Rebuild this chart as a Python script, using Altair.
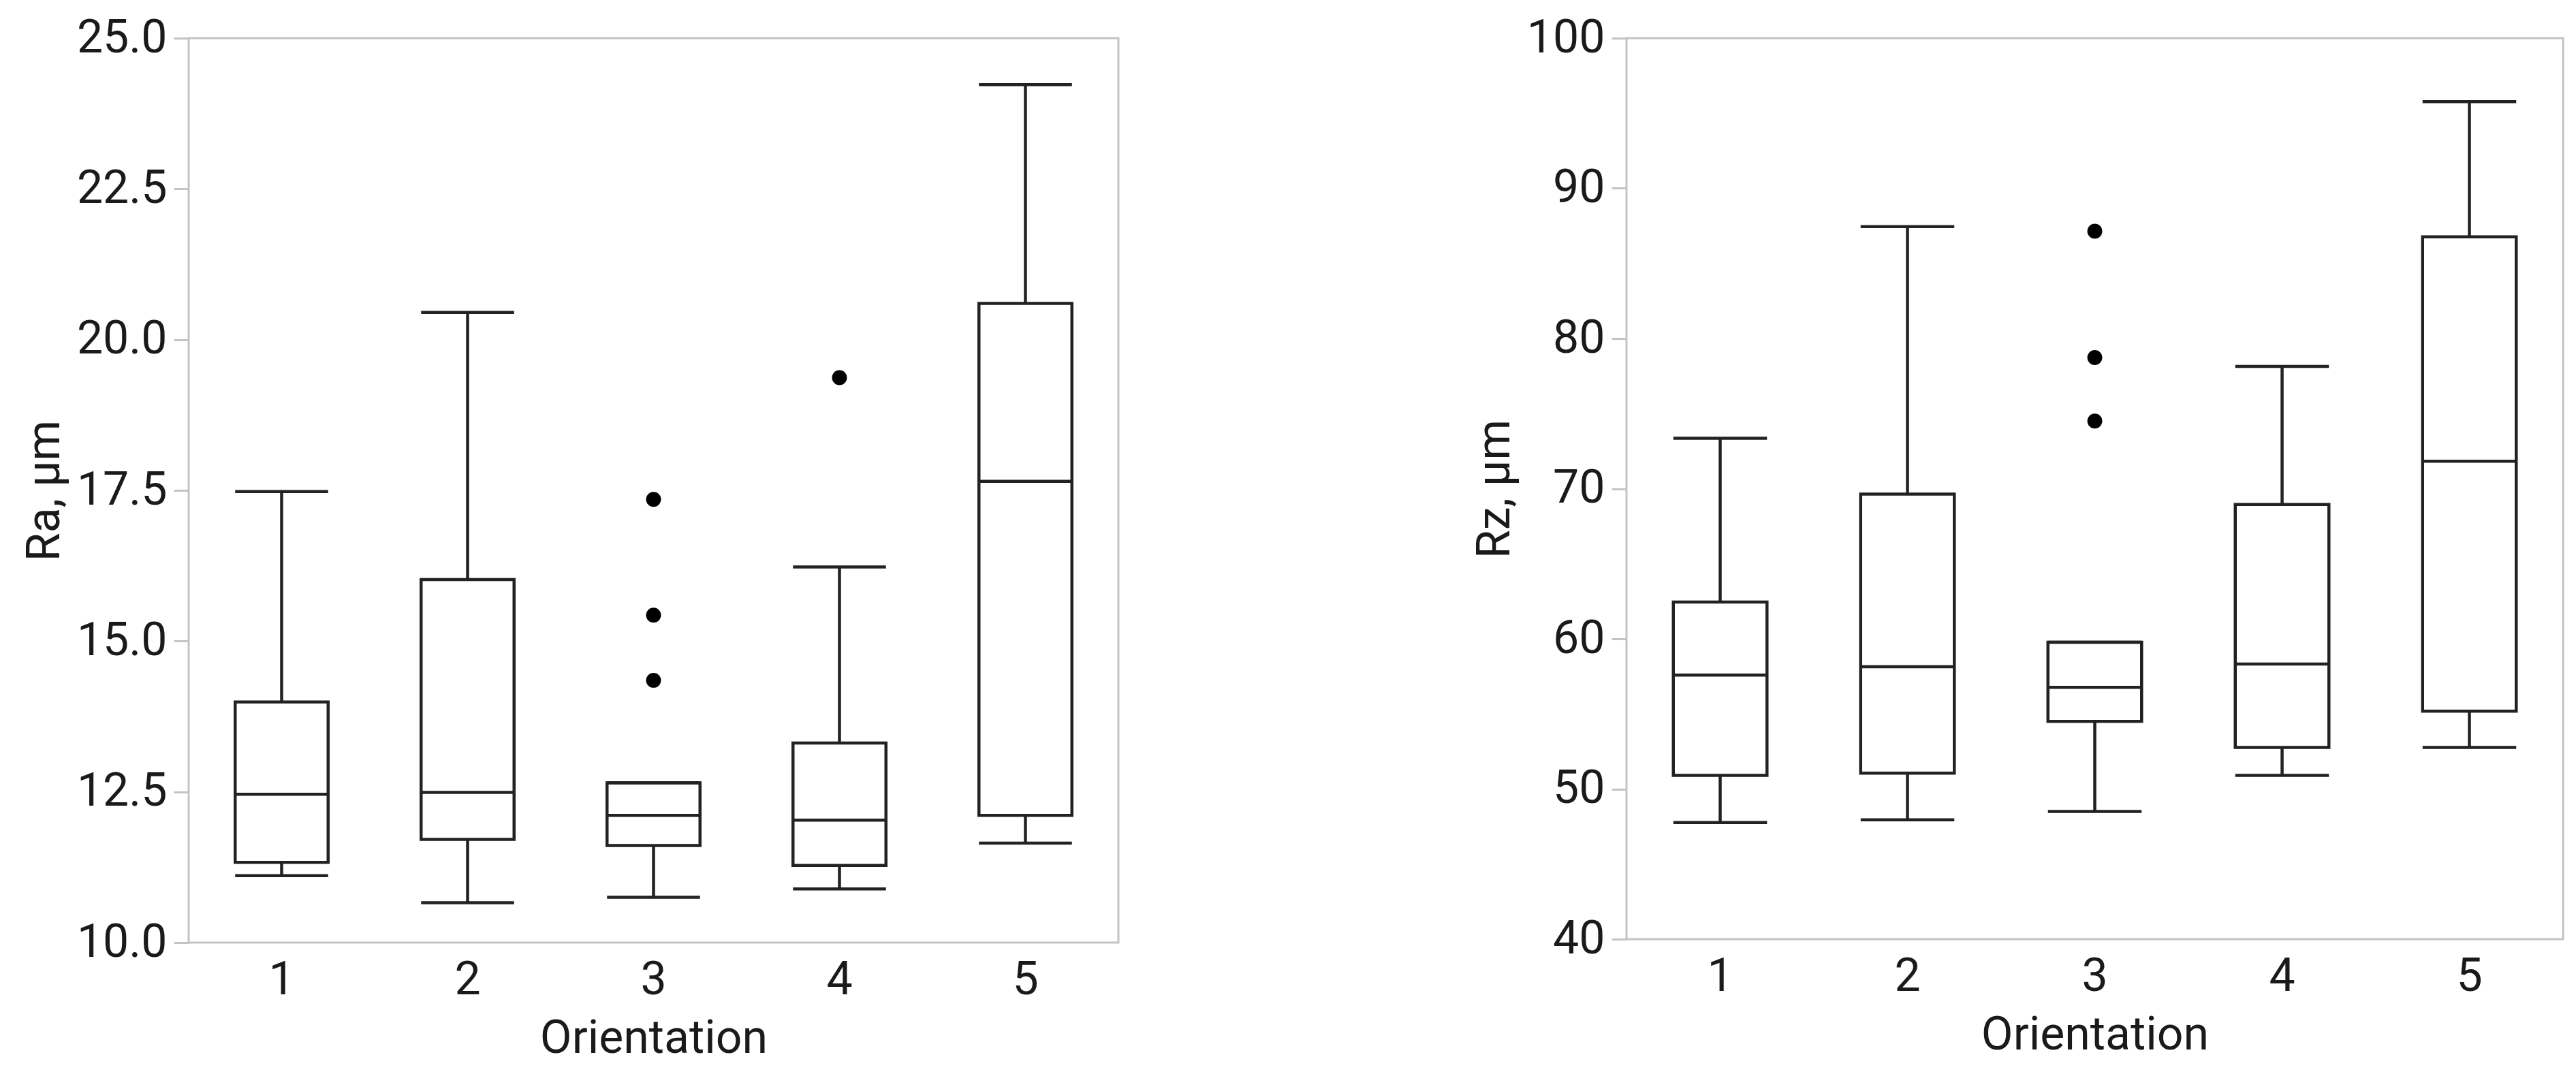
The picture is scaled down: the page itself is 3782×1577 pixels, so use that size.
import altair as alt
import pandas as pd

# ---- data ----
categories = ["1", "2", "3", "4", "5"]

ra_q1 = [11.33, 11.71, 11.61, 11.28, 12.11]
ra_median = [12.46, 12.49, 12.11, 12.03, 17.65]
ra_q3 = [13.99, 16.02, 12.65, 13.31, 20.60]
ra_lo = [11.11, 10.66, 10.75, 10.89, 11.65]
ra_hi = [17.48, 20.45, 12.65, 16.23, 24.23]
ra_out_cat = ["3", "3", "3", "4"]
ra_out_val = [17.35, 15.43, 14.35, 19.37]

rz_q1 = [50.91, 51.05, 54.50, 52.77, 55.18]
rz_median = [57.59, 58.14, 56.77, 58.32, 71.82]
rz_q3 = [62.45, 69.64, 59.77, 68.95, 86.77]
rz_lo = [47.77, 47.95, 48.50, 50.91, 52.77]
rz_hi = [73.36, 87.45, 59.77, 78.14, 95.77]
rz_out_cat = ["3", "3", "3"]
rz_out_val = [87.14, 78.73, 74.50]

ra_ticks = [10.0, 12.5, 15.0, 17.5, 20.0, 22.5, 25.0]
rz_ticks = [40, 50, 60, 70, 80, 90, 100]

FONT = "Roboto"
INK = "#222222"
FRAME = "#c4c4c4"
LW = 4.5


def panel(q1, med, q3, lo, hi, out_cat, out_val, ytitle, ticks, fmt, w, h):
    df = pd.DataFrame({"cat": categories, "q1": q1, "med": med, "q3": q3,
                       "lo": lo, "hi": hi})
    od = pd.DataFrame({"cat": out_cat, "val": out_val})
    dom = [ticks[0], ticks[-1]]
    xenc = alt.X("cat:N", sort=categories, title="Orientation",
                 scale=alt.Scale(paddingInner=0, paddingOuter=0),
                 axis=alt.Axis(labelAngle=0))
    yscale = alt.Scale(domain=dom, nice=False, zero=False)
    yaxis = alt.Axis(values=ticks, format=fmt, title=ytitle)
    base = alt.Chart(df)
    whisk_up = base.mark_rule(color=INK, strokeWidth=LW).encode(
        x=xenc, y=alt.Y("q3:Q", scale=yscale, axis=yaxis), y2="hi:Q")
    whisk_dn = base.mark_rule(color=INK, strokeWidth=LW).encode(
        x=xenc, y=alt.Y("lo:Q", scale=yscale, axis=yaxis), y2="q1:Q")
    box = base.mark_bar(width=alt.RelativeBandSize(0.5), fill="white",
                        stroke=INK, strokeWidth=LW).encode(
        x=xenc, y=alt.Y("q1:Q", scale=yscale, axis=yaxis), y2="q3:Q")
    medt = base.mark_tick(color=INK, thickness=LW, size=w / 10, opacity=1).encode(
        x=xenc, y=alt.Y("med:Q", scale=yscale, axis=yaxis))
    caphi = base.mark_tick(color=INK, thickness=LW, size=w / 10, opacity=1).encode(
        x=xenc, y=alt.Y("hi:Q", scale=yscale, axis=yaxis))
    caplo = base.mark_tick(color=INK, thickness=LW, size=w / 10, opacity=1).encode(
        x=xenc, y=alt.Y("lo:Q", scale=yscale, axis=yaxis))
    outl = alt.Chart(od).mark_circle(size=480, color="black", opacity=1).encode(
        x=xenc, y=alt.Y("val:Q", scale=yscale, axis=yaxis))
    return alt.layer(whisk_up, whisk_dn, box, medt, caphi, caplo, outl).properties(
        width=w, height=h)


left = panel(ra_q1, ra_median, ra_q3, ra_lo, ra_hi, ra_out_cat, ra_out_val,
             "Ra, µm", ra_ticks, ".1f", 1365, 1328)
right = panel(rz_q1, rz_median, rz_q3, rz_lo, rz_hi, rz_out_cat, rz_out_val,
              "Rz, µm", rz_ticks, "d", 1375, 1323)

chart = alt.hconcat(left, right, spacing=515).properties(
    padding={"left": 22, "top": 12, "right": 5, "bottom": 5}
).configure_view(
    stroke=FRAME, strokeWidth=3
).configure_axis(
    labelFont=FONT, labelFontSize=68, labelColor="#1a1a1a",
    titleFont=FONT, titleFontSize=68, titleFontWeight="normal", titleColor="#1a1a1a",
    grid=False, domain=False, tickColor=FRAME, tickWidth=3
).configure_axisY(
    tickSize=22, labelPadding=10, titlePadding=12
).configure_axisX(
    ticks=False, tickSize=0, labelPadding=21, titlePadding=18
)

chart.save("out.html", embed_options={"renderer": "svg", "actions": False})
